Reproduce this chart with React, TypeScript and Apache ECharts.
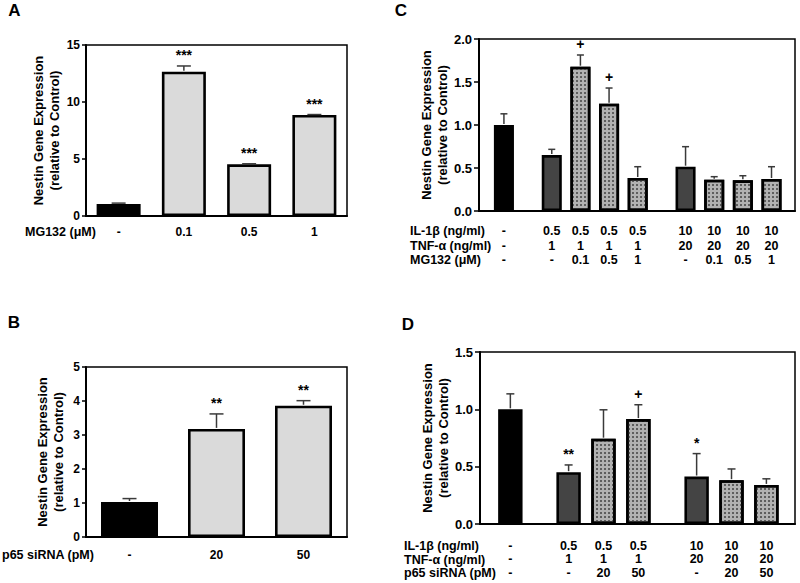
import React, { useEffect, useRef } from "react";
import * as echarts from "echarts";

const FONT = 'Arial, "Liberation Sans", Helvetica, sans-serif';

// ---------- Panel A ----------
const aLabels = ["-", "0.1", "0.5", "1"];
const aMeans = [1.05, 12.66, 4.53, 8.86];
const aUpper = [1.13, 13.16, 4.58, 8.9];
const aMarks = ["", "***", "***", "***"];

// ---------- Panel B ----------
const bLabels = ["-", "20", "50"];
const bMeans = [1.03, 3.18, 3.86];
const bUpper = [1.13, 3.62, 4.01];
const bMarks = ["", "**", "**"];

// ---------- Panel C ----------
const cIL1b = ["-", "0.5", "0.5", "0.5", "0.5", "10", "10", "10", "10"];
const cTNFa = ["-", "1", "1", "1", "1", "20", "20", "20", "20"];
const cMG132 = ["-", "-", "0.1", "0.5", "1", "-", "0.1", "0.5", "1"];
const cMeans = [1.0, 0.65, 1.678, 1.248, 0.384, 0.515, 0.364, 0.357, 0.372];
const cUpper = [1.13, 0.717, 1.814, 1.43, 0.515, 0.748, 0.399, 0.41, 0.515];
const cMarks = ["", "", "+", "+", "", "", "", "", ""];

// ---------- Panel D ----------
const dIL1b = ["-", "0.5", "0.5", "0.5", "10", "10", "10"];
const dTNFa = ["-", "1", "1", "1", "20", "20", "20"];
const dP65 = ["-", "-", "20", "50", "-", "20", "50"];
const dMeans = [1.0, 0.452, 0.744, 0.915, 0.414, 0.382, 0.341];
const dUpper = [1.135, 0.515, 0.996, 1.04, 0.614, 0.48, 0.394];
const dMarks = ["", "**", "", "+", "*", "", ""];

// ---------- layout ----------
const GRID_A = { left: 86, top: 45, width: 261, height: 171 };
const GRID_B = { left: 86, top: 367, width: 261, height: 170 };
const GRID_C = { left: 479, top: 39, width: 316, height: 172 };
const GRID_D = { left: 480, top: 352, width: 315, height: 172 };

const START = 0.87;
const GROUP_GAP = 1.67;
const END_PAD = 0.82;
const BAR_FRAC = 0.7;

function slotPositions(groupKey: string[]): number[] {
  const out: number[] = [];
  groupKey.forEach((g, i) => {
    if (i === 0) out.push(START);
    else out.push(out[i - 1] + (g !== groupKey[i - 1] ? GROUP_GAP : 1));
  });
  return out;
}

const cPos = slotPositions(cIL1b);
const dPos = slotPositions(dIL1b);
const cMax = cPos[cPos.length - 1] + END_PAD;
const dMax = dPos[dPos.length - 1] + END_PAD;

const dotDecal = {
  symbol: "rect",
  symbolSize: 1,
  dashArrayX: [1.3, 1.7],
  dashArrayY: [1.3, 1.7],
  color: "#5e5e5e",
};

function styleFor(kind: string) {
  const base = { borderColor: "#000", borderWidth: 2.6 };
  if (kind === "ctrl") return { ...base, color: "#000" };
  if (kind === "dark") return { ...base, color: "#444444" };
  if (kind === "dot") return { ...base, color: "#b2b2b2", decal: dotDecal };
  return { ...base, color: "#dadada" };
}

function kindC(il: string, third: string) {
  if (il === "-") return "ctrl";
  if (third === "-") return "dark";
  return "dot";
}

function yAxis(gridIndex: number, max: number, interval: number, nameGap: number, decimals: number, fontSize: number, tickLen: number) {
  return {
    type: "value",
    gridIndex,
    min: 0,
    max,
    interval,
    name: "Nestin Gene Expression\n(relative to Control)",
    nameLocation: "middle",
    nameGap,
    nameRotate: 90,
    nameTextStyle: { fontFamily: FONT, fontWeight: "bold", fontSize: 13, lineHeight: 16, color: "#000" },
    axisLine: { show: true, lineStyle: { color: "#000", width: 2 } },
    axisTick: { show: true, inside: false, length: tickLen, lineStyle: { color: "#000", width: 1.5 } },
    axisLabel: {
      fontFamily: FONT,
      fontWeight: "bold",
      fontSize,
      color: "#000",
      margin: tickLen + 2,
      formatter: (v: number) => v.toFixed(decimals),
    },
    splitLine: { show: false },
  };
}

function catAxis(gridIndex: number, data: string[], margin: number) {
  return {
    type: "category",
    gridIndex,
    data,
    axisLine: { show: true, lineStyle: { color: "#000", width: 2 } },
    axisTick: { show: false },
    axisLabel: { fontFamily: FONT, fontWeight: "bold", fontSize: 12, color: "#000", margin },
    splitLine: { show: false },
  };
}

function valXAxis(gridIndex: number, max: number) {
  return {
    type: "value",
    gridIndex,
    min: 0,
    max,
    axisLine: { show: true, onZero: false, lineStyle: { color: "#000", width: 2 } },
    axisTick: { show: false },
    axisLabel: { show: false },
    splitLine: { show: false },
  };
}

function errorSeries(idx: number, xs: number[], means: number[], upper: number[], marks: string[], capHalf: number) {
  return {
    type: "custom",
    xAxisIndex: idx,
    yAxisIndex: idx,
    z: 5,
    silent: true,
    clip: false,
    encode: { x: 0, y: [1, 2] },
    data: xs.map((x, i) => [x, means[i], upper[i]]),
    renderItem: (params: any, api: any) => {
      const x = api.value(0);
      const p0 = api.coord([x, api.value(1)]);
      const p1 = api.coord([x, api.value(2)]);
      const lineStyle = { stroke: "#3a3a3a", lineWidth: 1.5 };
      const children: any[] = [
        { type: "line", shape: { x1: p0[0], y1: p0[1] - 1, x2: p1[0], y2: p1[1] }, style: lineStyle },
        { type: "line", shape: { x1: p1[0] - capHalf, y1: p1[1], x2: p1[0] + capHalf, y2: p1[1] }, style: lineStyle },
      ];
      const mark = marks[params.dataIndex];
      if (mark) {
        children.push({
          type: "text",
          style: {
            text: mark,
            x: p1[0],
            y: p1[1] - 11,
            textAlign: "center",
            textVerticalAlign: "middle",
            font: `bold 14px ${FONT}`,
            fill: "#000",
          },
        });
      }
      return { type: "group", children };
    },
  };
}

function tableSeries(idx: number, xs: number[], rows: string[][], offsets: number[]) {
  return {
    type: "custom",
    xAxisIndex: idx,
    yAxisIndex: idx,
    silent: true,
    clip: false,
    encode: { x: 0, y: 1 },
    data: xs.map((x) => [x, 0]),
    renderItem: (params: any, api: any) => {
      const p = api.coord([api.value(0), 0]);
      return {
        type: "group",
        children: rows.map((row, r) => ({
          type: "text",
          style: {
            text: row[params.dataIndex],
            x: p[0],
            y: p[1] + offsets[r],
            textAlign: "center",
            textVerticalAlign: "middle",
            font: `bold 12.5px ${FONT}`,
            fill: "#000",
          },
        })),
      };
    },
  };
}

function label(text: string, x: number, y: number, size = 12.5, align = "left") {
  return {
    type: "text",
    x,
    y,
    style: {
      text,
      textAlign: align,
      textVerticalAlign: "middle",
      font: `bold ${size}px ${FONT}`,
      fill: "#000",
    },
  };
}

export default function App() {
  const ref = useRef<HTMLDivElement>(null);

  useEffect(() => {
    if (!ref.current) return;
    const chart = echarts.init(ref.current, undefined, { renderer: "svg" });

    const cBarW = (BAR_FRAC * GRID_C.width) / cMax;
    const dBarW = (BAR_FRAC * GRID_D.width) / dMax;

    const gridStyle = { show: true, borderColor: "#000", borderWidth: 1.5, backgroundColor: "transparent" };

    const option: any = {
      animation: false,
      backgroundColor: "#fff",
      textStyle: { fontFamily: FONT },
      grid: [
        { ...GRID_A, ...gridStyle },
        { ...GRID_B, ...gridStyle },
        { ...GRID_C, ...gridStyle },
        { ...GRID_D, ...gridStyle },
      ],
      xAxis: [catAxis(0, aLabels, 10), catAxis(1, bLabels, 12), valXAxis(2, cMax), valXAxis(3, dMax)],
      yAxis: [
        yAxis(0, 15, 5, 20, 0, 12, 4),
        yAxis(1, 5, 1, 20, 0, 12, 4),
        yAxis(2, 2, 0.5, 23, 1, 13, 5),
        yAxis(3, 1.5, 0.5, 23, 1, 13, 5),
      ],
      series: [
        {
          type: "bar",
          xAxisIndex: 0,
          yAxisIndex: 0,
          barWidth: 44,
          data: aMeans.map((v, i) => ({ value: v, itemStyle: styleFor(aLabels[i] === "-" ? "ctrl" : "light") })),
        },
        errorSeries(0, aLabels.map((_, i) => i), aMeans, aUpper, aMarks, 7),
        {
          type: "bar",
          xAxisIndex: 1,
          yAxisIndex: 1,
          barWidth: 57,
          data: bMeans.map((v, i) => ({ value: v, itemStyle: styleFor(bLabels[i] === "-" ? "ctrl" : "light") })),
        },
        errorSeries(1, bLabels.map((_, i) => i), bMeans, bUpper, bMarks, 7),
        {
          type: "bar",
          xAxisIndex: 2,
          yAxisIndex: 2,
          barWidth: cBarW,
          data: cMeans.map((v, i) => ({ value: [cPos[i], v], itemStyle: styleFor(kindC(cIL1b[i], cMG132[i])) })),
        },
        errorSeries(2, cPos, cMeans, cUpper, cMarks, 3.5),
        tableSeries(2, cPos, [cIL1b, cTNFa, cMG132], [19.5, 34.5, 49]),
        {
          type: "bar",
          xAxisIndex: 3,
          yAxisIndex: 3,
          barWidth: dBarW,
          data: dMeans.map((v, i) => ({ value: [dPos[i], v], itemStyle: styleFor(kindC(dIL1b[i], dP65[i])) })),
        },
        errorSeries(3, dPos, dMeans, dUpper, dMarks, 4),
        tableSeries(3, dPos, [dIL1b, dTNFa, dP65], [21.7, 35.2, 48.7]),
      ],
      graphic: [
        label("A", 14.5, 10.5, 17, "center"),
        label("B", 14, 322.5, 17, "center"),
        label("C", 401, 10.5, 17, "center"),
        label("D", 408, 324, 17, "center"),
        label("MG132 (μM)", 25, 232),
        label("p65 siRNA (pM)", 2, 555),
        label("IL-1β (ng/ml)", 410, 230.5),
        label("TNF-α (ng/ml)", 410, 245.5),
        label("MG132 (μM)", 410, 260),
        label("IL-1β (ng/ml)", 404, 546),
        label("TNF-α (ng/ml)", 404, 559.5),
        label("p65 siRNA (pM)", 404, 573),
      ],
    };

    chart.setOption(option);
    return () => chart.dispose();
  }, []);

  return (
    <div
      ref={ref}
      style={{ position: "absolute", left: 0, top: 0, width: 800, height: 583, background: "#fff" }}
    />
  );
}
